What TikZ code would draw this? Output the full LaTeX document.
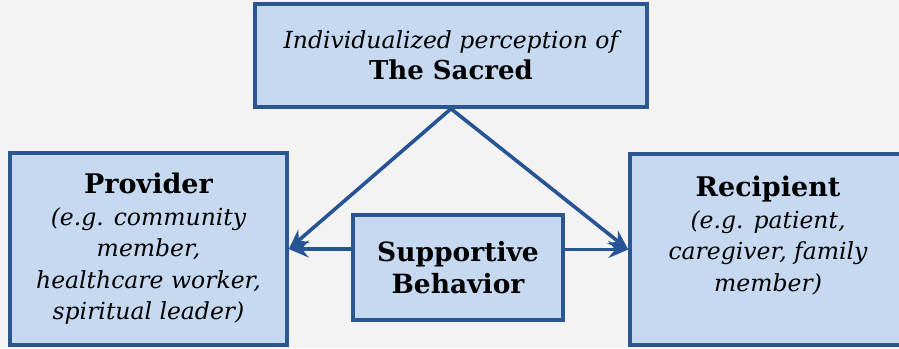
\documentclass[tikz,border=0pt]{standalone}
\usepackage{fontspec}
\setmainfont{DejaVu Serif}
\usetikzlibrary{arrows.meta}

\begin{document}
\begin{tikzpicture}[x=1pt,y=1pt,yscale=-1,xscale=1,
  box/.style={draw={rgb,255:red,44;green,86;blue,144}, line width=3.5, fill={rgb,255:red,198;green,217;blue,240}, align=center, inner sep=0pt, font=\fontsize{23.5}{31.5}\selectfont},
  link/.style={draw={rgb,255:red,38;green,84;blue,148}, line width=3.6, -{Stealth[length=20,width=17,inset=7]}}]
%Background
\fill [color={rgb, 255:red, 243; green, 243; blue, 243 }] (0,0) rectangle (899,348) ;
\useasboundingbox (0,0) rectangle (899,348) ;
\clip (0,0) rectangle (899,348) ;

%Shape: Rectangle [sacred]
\node [box, minimum width=392, minimum height=103] (sacred) at (451,55.5) {\itshape Individualized perception of\\ {\bfseries\fontsize{26}{30}\selectfont The Sacred}};
%Shape: Rectangle [provider]
\node [box, minimum width=277, minimum height=192] (provider) at (148.5,249) {{\bfseries\fontsize{27}{31.5}\selectfont Provider}\\ \itshape (e.g. community\\ \itshape member,\\ \itshape healthcare worker,\\ \itshape spiritual leader)};
%Shape: Rectangle [support]
\node [box, minimum width=210, minimum height=105] (support) at (458,267.5) {\bfseries\fontsize{26.5}{35}\selectfont Supportive\\ \bfseries\fontsize{26.5}{35}\selectfont Behavior};
%Shape: Rectangle [recipient]
\node [box, minimum width=276, minimum height=191] (recipient) at (768,249.5) {{\bfseries\fontsize{27}{31.5}\selectfont Recipient}\\ \itshape (e.g. patient,\\ \itshape caregiver, family\\ \itshape member)\\ \mbox{}};

%Straight Lines [sacred to provider]
\draw [link] (sacred.south) -- (provider.east) ;
%Straight Lines [sacred to recipient]
\draw [link] (sacred.south) -- (recipient.west) ;
%Straight Lines [support to provider]
\draw [link] (support.west |- provider.east) -- (provider.east) ;
%Straight Lines [support to recipient]
\draw [link] (support.east |- recipient.west) -- (recipient.west) ;

\end{tikzpicture}
\end{document}
